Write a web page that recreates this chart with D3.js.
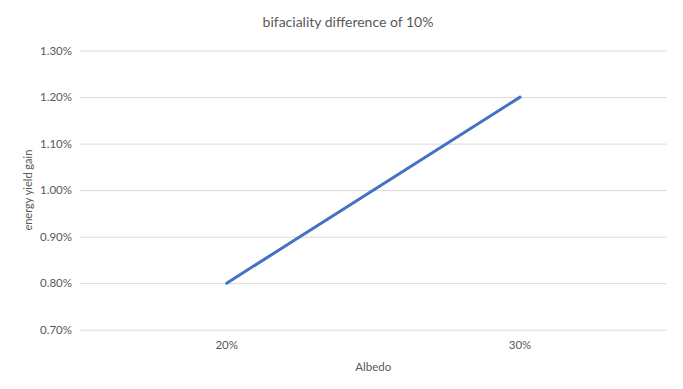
<!DOCTYPE html>
<html>
<head>
<meta charset="utf-8">
<script src="https://cdn.jsdelivr.net/npm/d3@7"></script>
<style>
  body { margin: 0; background: #fff; }
  text { font-family: Lato, "Open Sans", sans-serif; fill: #595959; }
</style>
</head>
<body>
<div id="chart"></div>
<script>
const TITLE = "bifaciality difference of 10%";
const X_LABEL = "Albedo";
const Y_LABEL = "energy yield gain";
const CATEGORIES = ["20%", "30%"];
const VALUES = [0.008, 0.012];
const Y_TICKS = [0.007, 0.008, 0.009, 0.010, 0.011, 0.012, 0.013];

const width = 683, height = 389;
const margin = { left: 80, top: 50.6, right: 16.3, bottom: 59.3 };

const svg = d3.select("#chart").append("svg")
  .attr("width", width)
  .attr("height", height);

const x = d3.scaleBand()
  .domain(CATEGORIES)
  .range([margin.left, width - margin.right]);

const y = d3.scaleLinear()
  .domain([0.007, 0.013])
  .range([height - margin.bottom, margin.top]);

// gridlines + y labels
const yAxis = svg.append("g")
  .attr("transform", `translate(${margin.left},0)`)
  .call(d3.axisLeft(y)
    .tickValues(Y_TICKS)
    .tickSize(-(width - margin.left - margin.right))
    .tickPadding(8)
    .tickFormat(d3.format(".2%")));
yAxis.select(".domain").remove();
yAxis.selectAll(".tick line").attr("stroke", "#d9d9d9").attr("stroke-width", 1);
yAxis.selectAll(".tick text").style("font-size", "11.5px").attr("fill", "#595959");

// x axis labels
const xAxis = svg.append("g")
  .attr("transform", `translate(0,${height - margin.bottom})`)
  .call(d3.axisBottom(x).tickSize(0).tickPadding(11));
xAxis.select(".domain").remove();
xAxis.selectAll(".tick text").style("font-size", "11.5px").attr("fill", "#595959");

// line
const line = d3.line()
  .x((d, i) => x(CATEGORIES[i]) + x.bandwidth() / 2)
  .y(d => y(d));

svg.append("path")
  .datum(VALUES)
  .attr("fill", "none")
  .attr("stroke", "#4472c4")
  .attr("stroke-width", 3)
  .attr("stroke-linecap", "round")
  .attr("d", line);

// titles
svg.append("text")
  .attr("x", 348)
  .attr("y", 27)
  .attr("text-anchor", "middle")
  .style("font-size", "14px")
  .text(TITLE);

svg.append("text")
  .attr("x", (margin.left + width - margin.right) / 2)
  .attr("y", 371)
  .attr("text-anchor", "middle")
  .style("font-size", "11.5px")
  .text(X_LABEL);

svg.append("text")
  .attr("transform", `translate(32,${(margin.top + height - margin.bottom) / 2}) rotate(-90)`)
  .attr("text-anchor", "middle")
  .style("font-size", "11px")
  .text(Y_LABEL);
</script>
</body>
</html>
